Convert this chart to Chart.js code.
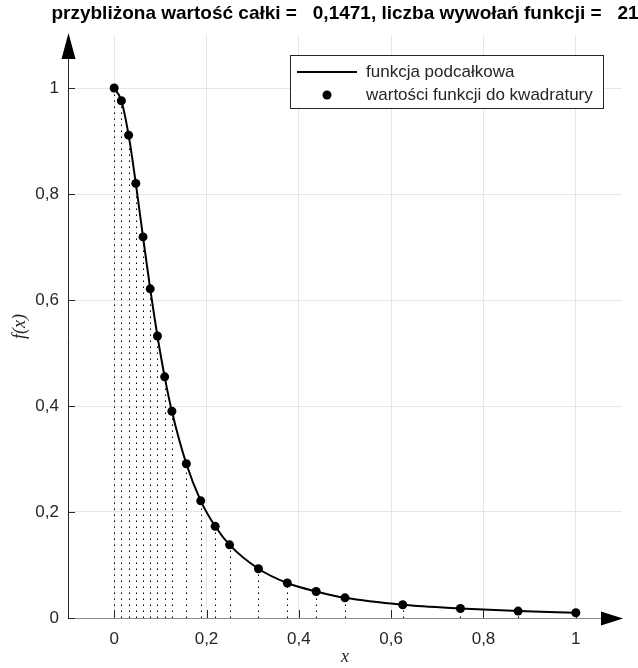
<!DOCTYPE html>
<html>
<head>
<meta charset="utf-8">
<script src="https://cdn.jsdelivr.net/npm/chart.js@4.4.1/dist/chart.umd.min.js"></script>
<style>
  html, body { margin: 0; padding: 0; background: #fff; }
</style>
</head>
<body>
<canvas id="quad" width="638" height="668"></canvas>
<script>
// adaptive Simpson nodes and integrand values
const titleText = 'przybliżona wartość całki =   0,1471, liczba wywołań funkcji =   21';
const nodesX = [0, 0.0156, 0.0313, 0.0469, 0.0625, 0.0781, 0.0938, 0.1094, 0.125,
                0.1563, 0.1875, 0.2188, 0.25, 0.3125, 0.375, 0.4375, 0.5,
                0.625, 0.75, 0.875, 1];
const nodesY = [1, 0.976, 0.911, 0.820, 0.719, 0.621, 0.532, 0.455, 0.390,
                0.291, 0.221, 0.173, 0.138, 0.093, 0.066, 0.050, 0.038,
                0.025, 0.018, 0.013, 0.010];
const xTicks = [0, 0.2, 0.4, 0.6, 0.8, 1];
const yTicks = [0, 0.2, 0.4, 0.6, 0.8, 1];

const SANS = "'Liberation Sans', Arial, sans-serif";
const SERIF = "'Liberation Serif', 'Times New Roman', serif";
const TXT = '#262626';

const points = nodesX.map((x, i) => ({ x, y: nodesY[i] }));
const fmt = v => String(v).replace('.', ',');

const axesPlugin = {
  id: 'axes',
  beforeDatasetsDraw(chart) {
    const { ctx, chartArea: a, scales: { x, y } } = chart;
    const y0 = y.getPixelForValue(0);
    ctx.save();

    // dotted stems under every node
    ctx.strokeStyle = '#000';
    ctx.lineWidth = 1;
    ctx.setLineDash([1.5, 4.5]);
    points.forEach(p => {
      const px = Math.round(x.getPixelForValue(p.x)) + 0.5;
      ctx.beginPath();
      ctx.moveTo(px, y0);
      ctx.lineTo(px, y.getPixelForValue(p.y));
      ctx.stroke();
    });
    ctx.setLineDash([]);

    // x axis (grey) with arrow
    ctx.strokeStyle = '#8c8c8c';
    ctx.beginPath();
    ctx.moveTo(a.left, y0 + 0.5);
    ctx.lineTo(a.right - 20, y0 + 0.5);
    ctx.stroke();
    ctx.fillStyle = '#000';
    ctx.beginPath();
    ctx.moveTo(a.right + 1, y0 + 0.5);
    ctx.lineTo(a.right - 21, y0 - 6.5);
    ctx.lineTo(a.right - 21, y0 + 7.5);
    ctx.closePath();
    ctx.fill();

    // y axis with arrow
    ctx.strokeStyle = TXT;
    ctx.beginPath();
    ctx.moveTo(a.left + 0.5, y0 + 0.5);
    ctx.lineTo(a.left + 0.5, a.top + 22);
    ctx.stroke();
    ctx.beginPath();
    ctx.moveTo(a.left + 0.5, a.top - 2);
    ctx.lineTo(a.left - 6.5, a.top + 24);
    ctx.lineTo(a.left + 7.5, a.top + 24);
    ctx.closePath();
    ctx.fill();

    // inward tick marks
    ctx.beginPath();
    xTicks.forEach(v => {
      const px = Math.round(x.getPixelForValue(v)) + 0.5;
      ctx.moveTo(px, y0);
      ctx.lineTo(px, y0 - 8);
    });
    yTicks.forEach(v => {
      const py = Math.round(y.getPixelForValue(v)) + 0.5;
      ctx.moveTo(a.left, py);
      ctx.lineTo(a.left + 7, py);
    });
    ctx.stroke();
    ctx.restore();
  },
  afterDraw(chart) {
    const { ctx, chartArea: a, data } = chart;
    ctx.save();

    // title over the plot area
    ctx.fillStyle = '#000';
    ctx.font = `bold 19px ${SANS}`;
    ctx.textAlign = 'center';
    ctx.textBaseline = 'middle';
    ctx.fillText(titleText, (a.left + a.right) / 2, 14);

    // legend box
    const bx = 290, by = 55, bw = 313, bh = 53;
    ctx.fillStyle = '#fff';
    ctx.fillRect(bx, by, bw, bh);
    ctx.strokeStyle = TXT;
    ctx.lineWidth = 1;
    ctx.strokeRect(bx + 0.5, by + 0.5, bw, bh);

    const [curve, nodes] = data.datasets;
    ctx.strokeStyle = curve.borderColor;
    ctx.lineWidth = curve.borderWidth;
    ctx.beginPath();
    ctx.moveTo(297, by + 17);
    ctx.lineTo(357, by + 17);
    ctx.stroke();
    ctx.fillStyle = nodes.backgroundColor;
    ctx.beginPath();
    ctx.arc(327, by + 40, nodes.pointRadius, 0, Math.PI * 2);
    ctx.fill();

    ctx.fillStyle = TXT;
    ctx.font = `17px ${SANS}`;
    ctx.textAlign = 'left';
    ctx.fillText(curve.label, 366, by + 17);
    ctx.fillText(nodes.label, 366, by + 40);
    ctx.restore();
  }
};

new Chart(document.getElementById('quad'), {
  type: 'scatter',
  data: {
    datasets: [
      {
        label: 'funkcja podcałkowa',
        data: points,
        showLine: true,
        cubicInterpolationMode: 'monotone',
        borderColor: '#000',
        borderWidth: 2,
        pointRadius: 0
      },
      {
        label: 'wartości funkcji do kwadratury',
        data: points,
        showLine: false,
        backgroundColor: '#000',
        borderWidth: 0,
        pointRadius: 4.5
      }
    ]
  },
  options: {
    responsive: false,
    animation: false,
    layout: { padding: { top: 35, right: 16, bottom: 0, left: 0 } },
    plugins: {
      legend: { display: false },
      tooltip: { enabled: false },
      title: { display: false }
    },
    scales: {
      x: {
        type: 'linear',
        min: -0.1,
        max: 1.1,
        afterBuildTicks: s => { s.ticks = xTicks.map(value => ({ value })); },
        afterFit: s => { s.height = 50; },
        grid: { color: '#e6e6e6', drawTicks: false },
        border: { display: false },
        ticks: {
          color: TXT,
          padding: 11,
          maxRotation: 0,
          font: { family: SANS, size: 17 },
          callback: v => fmt(v)
        },
        title: {
          display: true,
          text: 'x',
          color: TXT,
          padding: { top: 4, bottom: 0 },
          font: { family: SERIF, size: 18, style: 'italic' }
        }
      },
      y: {
        type: 'linear',
        min: 0,
        max: 1.1,
        afterBuildTicks: s => { s.ticks = yTicks.map(value => ({ value })); },
        afterFit: s => { s.width = 68; },
        grid: { color: '#e6e6e6', drawTicks: false },
        border: { display: false },
        ticks: {
          color: TXT,
          padding: 9,
          font: { family: SANS, size: 17 },
          callback: v => fmt(v)
        },
        title: {
          display: true,
          text: 'f(x)',
          color: TXT,
          padding: { top: 9, bottom: 0 },
          font: { family: SERIF, size: 18, style: 'italic' }
        }
      }
    }
  },
  plugins: [axesPlugin]
});
</script>
</body>
</html>
